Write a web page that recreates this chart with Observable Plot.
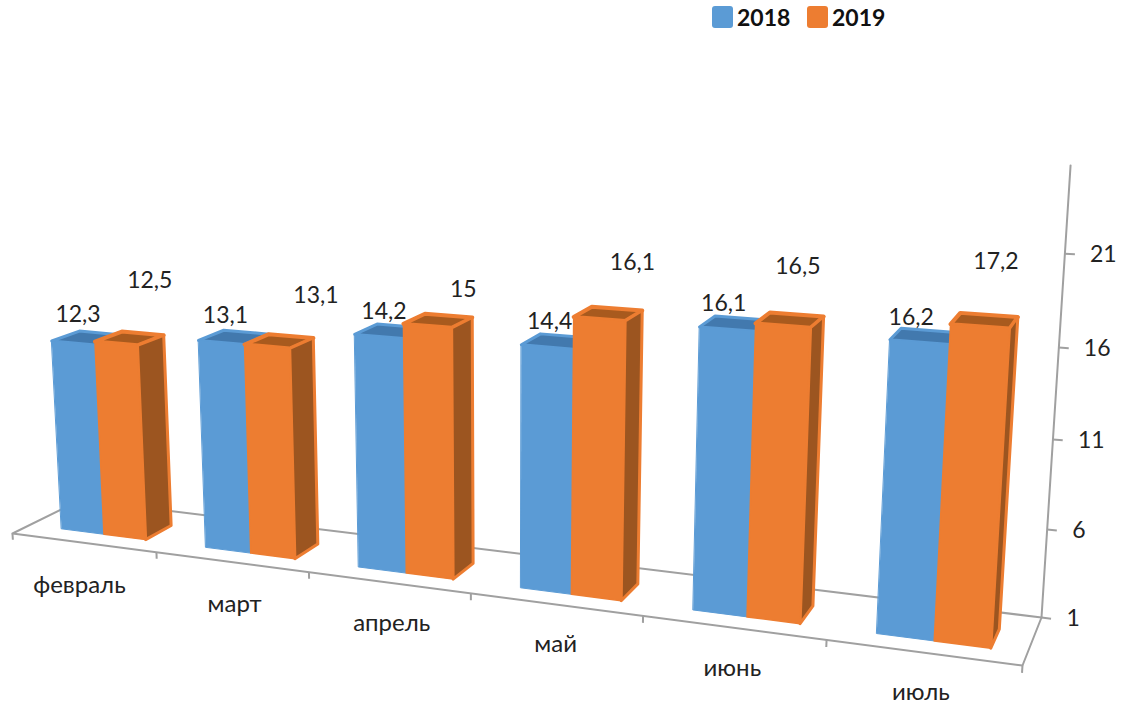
<!DOCTYPE html>
<html><head><meta charset="utf-8">
<script src="https://cdn.jsdelivr.net/npm/d3@7"></script>
<script src="https://cdn.jsdelivr.net/npm/@observablehq/plot@0.6"></script>
<style>
html,body{margin:0;padding:0;background:#fff;overflow:hidden}
#legend{height:34px;box-sizing:border-box;padding:6px 0 0 712px;display:flex;align-items:flex-start;font:bold 23px Lato,"Open Sans",sans-serif;color:#111;line-height:22px}
#legend i{display:block;width:21px;height:22px;border-radius:3px;margin-right:4px}
#legend span{width:70px}
svg{display:block}
</style></head><body>
<div id="legend"><i style="background:#5B9BD5"></i><span>2018</span><i style="background:#ED7D31"></i><span>2019</span></div>
<div id="chart"></div>
<script>
const months = ["февраль","март","апрель","май","июнь","июль"];
const values2018 = [12.3,13.1,14.2,14.4,16.1,16.2];
const values2019 = [12.5,13.1,15,16.1,16.5,17.2];
const valueTicks = [1,6,11,16,21];
const axisTop = 25.6;

// hand-placed label nudges (px), as in the source chart
const nudge2018 = [[-19,-18],[-17,-16],[-13,-14],[-12,-14],[-14,-14],[-14,-12]];
const nudge2019 = [[10,-52],[28,-40],[18,-26],[19,-46],[5,-48],[11,-53]];
const nudgeMonth = [[0,2],[7,1],[7,0],[4,-1],[3,0],[2,-1]];

// Perspective camera of the 3D frame: floor corners, vertical vanishing point
const floor = [[12,533],[1022,665],[1041,617],[80,499.5]];
const vanish = [502,9000], riseRate = -0.00208, barStretch = 1.05;
const [[x0,y0],[x1,y1],[x2,y2],[x3,y3]] = floor;
const sx=x0-x1+x2-x3, sy=y0-y1+y2-y3, dx1=x1-x2, dx2=x3-x2, dy1=y1-y2, dy2=y3-y2;
const den=dx1*dy2-dx2*dy1, g=(sx*dy2-dx2*sy)/den, h=(dx1*sy-sx*dy1)/den;
const a=x1-x0+g*x1, b=x3-x0+h*x3, d=y1-y0+g*y1, e=y3-y0+h*y3;
const s=riseRate*(g+h+1);
function project(X,Y,Z){
  const u=X/6, t=(Y-1)*s;
  const W=g*u+h*Z+1+t;
  return [(a*u+b*Z+x0+t*vanish[0])/W,(d*u+e*Z+y0+t*vanish[1])/W];
}
const Z0=0.25, Z1=0.65, BASE=1;
const barY=v=>BASE+(v-BASE)*barStretch;
const pt=(id,p)=>({id,x:p[0],y:p[1]});
function poly(list,id,pts){pts.forEach(p=>list.push(pt(id,project(...p))));}
const blueFront=[],blueTop=[],orangeFront=[],orangeTop=[],orangeSide=[];
months.forEach((m,i)=>{
  const L=i+0.225,M=i+0.525,R=i+0.815,vb=barY(values2018[i]),vo=barY(values2019[i]);
  poly(blueFront,m,[[L,BASE,Z0],[M,BASE,Z0],[M,vb,Z0],[L,vb,Z0]]);
  poly(blueTop,m,[[L,vb,Z0],[M,vb,Z0],[M,vb,Z1],[L,vb,Z1]]);
  poly(orangeFront,m,[[M,BASE,Z0],[R,BASE,Z0],[R,vo,Z0],[M,vo,Z0]]);
  poly(orangeTop,m,[[M,vo,Z0],[R,vo,Z0],[R,vo,Z1],[M,vo,Z1]]);
  poly(orangeSide,m,[[R,BASE,Z0],[R,BASE,Z1],[R,vo,Z1],[R,vo,Z0]]);
});
const frame=[
  [[0,BASE,1],[0,BASE,0],[6,BASE,0],[6,BASE,1],[0,BASE,1]],
  [[6,BASE,1],[6,axisTop,1]]
].flatMap((seg,k)=>seg.map(p=>pt("f"+k,project(...p))));
const xTicks=d3.range(0,7).map(i=>({a:project(i,BASE,0),b:project(i,0.6,0)}));
const yTicks=valueTicks.map(v=>({v,a:project(6,v,1),b:project(6.05,v,1)}));
const monthLabels=months.map((m,i)=>{const p=project(i+0.5,BASE,0);return {m,x:p[0]+nudgeMonth[i][0],y:p[1]+nudgeMonth[i][1]};});
const fmt=v=>String(v).replace(".",",");
const labels=[
  ...values2018.map((v,i)=>{const p=project(i+0.35,barY(v),Z1);return {t:fmt(v),x:p[0]+nudge2018[i][0],y:p[1]+nudge2018[i][1]};}),
  ...values2019.map((v,i)=>{const p=project(i+0.65,barY(v),Z1);return {t:fmt(v),x:p[0]+nudge2019[i][0],y:p[1]+nudge2019[i][1]};})
];
const face=(data,fill,stroke,w)=>Plot.line(data,{x:"x",y:"y",z:"id",fill,stroke,strokeWidth:w,strokeLinejoin:"round",curve:"linear-closed"});
const chart=Plot.plot({
  width:1125,height:673,margin:0,
  style:{fontFamily:'Lato,"Open Sans",sans-serif',background:"#fff"},
  x:{domain:[0,1125],range:[0,1125],axis:null},
  y:{domain:[34,707],range:[0,673],axis:null},
  marks:[
    Plot.line(frame,{x:"x",y:"y",z:"id",stroke:"#A0A0A0",strokeWidth:2}),
    Plot.link(xTicks,{x1:d=>d.a[0],y1:d=>d.a[1],x2:d=>d.b[0],y2:d=>d.b[1],stroke:"#A0A0A0",strokeWidth:2}),
    Plot.link(yTicks,{x1:d=>d.a[0],y1:d=>d.a[1],x2:d=>d.b[0],y2:d=>d.b[1],stroke:"#A0A0A0",strokeWidth:2}),
    face(blueTop,"#4279AE","#5B9BD5",3),
    face(blueFront,"#5B9BD5","#5B9BD5",1),
    face(orangeTop,"#A85A1E","#ED7D31",4),
    face(orangeSide,"#9C5520","#ED7D31",3),
    face(orangeFront,"#ED7D31","#ED7D31",1.5),
    Plot.text(yTicks,{x:d=>d.a[0],y:d=>d.a[1],text:d=>String(d.v),dx:25,dy:1,textAnchor:"start",fontSize:23,fill:"#222"}),
    Plot.text(monthLabels,{x:"x",y:"y",text:"m",dx:-4,dy:41,fontSize:24,fill:"#222"}),
    Plot.text(labels,{x:"x",y:"y",text:"t",fontSize:23,fill:"#222"})
  ]
});
document.getElementById("chart").append(chart);
</script></body></html>
